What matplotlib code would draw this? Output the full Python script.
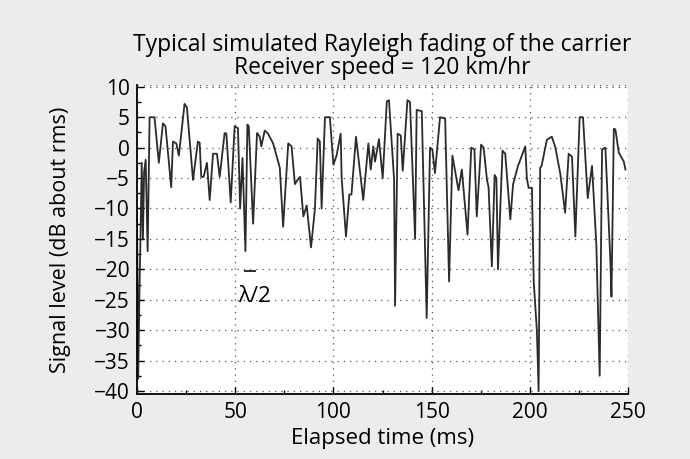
import numpy as np
import matplotlib
matplotlib.use("Agg")
import matplotlib.pyplot as plt
from matplotlib.ticker import MultipleLocator

# simulated Rayleigh fading trace: elapsed time (ms) and signal level (dB about rms)
time_ms = [
    0.0, 0.6, 1.2, 1.8, 2.4, 3.0, 3.6, 4.4, 5.4, 6.4, 8.9, 11.1, 13.2, 14.5,
    17.4, 18.3, 20.0, 21.3, 24.2, 25.4, 28.5, 31.0, 31.9, 32.7, 33.9, 35.6,
    37.0, 38.7, 40.7, 42.1, 44.6, 45.5, 47.7, 49.7, 51.4, 52.5, 53.7, 55.2,
    56.2, 56.9, 59.1, 61.1, 62.5, 63.3, 65.0, 66.7, 69.3, 72.7, 74.4, 77.0,
    78.7, 80.4, 81.7, 83.0, 84.7, 86.4, 88.6, 90.6, 92.0, 93.1, 94.0, 95.7,
    98.2, 100.0, 101.6, 103.7, 104.2, 106.4, 108.1, 109.2, 111.5, 115.2,
    117.8, 119.0, 120.3, 121.2, 123.2, 125.1, 127.2, 128.3, 130.9, 131.4,
    132.7, 134.3, 135.3, 137.7, 139.0, 141.6, 142.4, 145.0, 147.5, 149.2,
    150.4, 151.7, 154.3, 156.9, 158.9, 160.6, 163.7, 165.4, 168.3, 170.2,
    171.8, 173.0, 175.2, 176.5, 178.2, 179.0, 180.7, 182.1, 183.0, 183.8,
    186.1, 187.5, 190.1, 191.5, 194.0, 197.7, 198.5, 199.4, 201.1, 202.0,
    203.6, 204.5, 205.3, 206.0, 208.7, 211.2, 212.9, 215.5, 218.0, 219.8,
    221.5, 223.2, 225.4, 227.1, 229.5, 231.7, 233.9, 235.6, 236.8, 238.5,
    241.0, 241.6, 242.8, 243.6, 245.3, 247.9, 248.7,
]
level_db = [
    -12, -38, -24, -14, -2.5, -15, -4, -2, -17, 5, 5, -2.5, 4, 3.5,
    -6.5, 1, 0.7, -1.3, 7.2, 6.6, -5.3, 1, 0.8, -4.8, -4.8, -2.5,
    -8.6, -1, -1, -4.8, 2.4, 2.3, -9, 3.5, 3.2, -10, -1.7, -17,
    3.8, 3.5, -12.5, 2.4, 1.8, 0.2, 2.8, 2.3, 0.7, -3.3, -13, 0.7,
    0.2, -6, -5.3, -4.8, -11.3, -9.5, -16.4, -10, 1.5, 1, -10, 5,
    5, -2.8, -1.3, 2.3, -5, -14.6, -7.7, -7.7, 1.8, -8.6,
    0.7, -3.6, 0.2, -2.3, 1.4, -5, 7.6, 7.8, -5.3, -26,
    2.3, 2, -3.8, 7.8, 7.5, -15, 6.2, 6, -28, 0,
    -0.3, -4.2, 5, 4.8, -22, -1.3, -7, -3.6, -14.3, 0,
    -0.3, -11.3, 0.5, 0, -5.3, -6.5, -19.5, -4.5, -5, -20,
    -0.5, -1, -11.8, -6, -3, 0.2, -5, -6.6, -6.6, -22,
    -30, -40, -3.3, -3, 1.3, 1.8, 0.2, -4.2, -10.7, -1,
    -1.5, -14.6, 5, 5, -8.3, -3, -16, -37.5, -0.3, 0,
    -18.3, -24.5, 3.1, 3, -0.8, -2.3, -3.6,
]

# half-wavelength scale bar
bar_start, bar_end, bar_level = 55, 60, -20.3

plt.rcParams['font.family'] = ['Open Sans', 'DejaVu Sans']

fig = plt.figure(figsize=(6.9, 4.59), dpi=100, facecolor='#ececec')
ax = fig.add_axes([0.1986, 0.1416, 0.7115, 0.6732])
ax.set_facecolor('white')

ax.plot(time_ms, level_db, color='#2b2b2b', linewidth=1.3)
ax.plot([bar_start, bar_end], [bar_level, bar_level], color='#2b2b2b', linewidth=1.4)
ax.text(51.5, -24.4, 'λ/2', fontsize=16, va='center', ha='left')

ax.set_xlim(0, 250)
ax.set_ylim(-40.5, 10.3)
ax.xaxis.set_major_locator(MultipleLocator(50))
ax.xaxis.set_minor_locator(MultipleLocator(25))
ax.yaxis.set_major_locator(MultipleLocator(5))
ax.yaxis.set_minor_locator(MultipleLocator(2.5))
ax.tick_params(which='both', direction='in', top=False, right=False, labelsize=15)
ax.tick_params(which='major', length=5, width=1)
ax.tick_params(which='minor', length=3, width=1)
ax.tick_params(axis='y', pad=5)
ax.tick_params(axis='x', pad=6)

ax.grid(True, which='major', linestyle=(0, (1, 4)), color='#555555', linewidth=0.9)
ax.spines['top'].set_visible(False)
ax.spines['right'].set_visible(False)
ax.spines['left'].set_linewidth(1.3)
ax.spines['bottom'].set_linewidth(1.3)
# dotted frame on the open sides
ax.axhline(10.3, color='#555555', linestyle=(0, (1, 4)), linewidth=0.9)
ax.axvline(250, color='#555555', linestyle=(0, (1, 4)), linewidth=0.9)

ax.set_title('Typical simulated Rayleigh fading of the carrier\nReceiver speed = 120 km/hr',
             fontsize=16.5, linespacing=0.95, pad=8)
ax.set_xlabel('Elapsed time (ms)', fontsize=16, labelpad=3)
ax.set_ylabel('Signal level (dB about rms)', fontsize=15.5)
ax.yaxis.set_label_coords(-0.135, 0.5)

fig.savefig('out.png', dpi=100, facecolor=fig.get_facecolor())
